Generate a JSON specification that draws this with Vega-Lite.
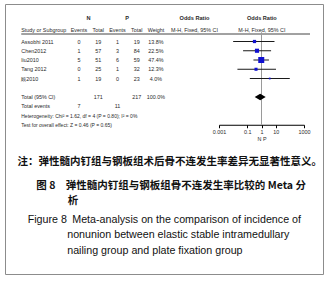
{
  "$schema": "https://vega.github.io/schema/vega-lite/v6.json",
  "width": 318,
  "height": 270,
  "autosize": {"type": "none"},
  "padding": {"left": 5, "top": 4, "right": 12, "bottom": 9},
  "background": "white",
  "config": {
    "view": {"stroke": "#8c8c8c", "strokeWidth": 1},
    "text": {"font": "Liberation Sans", "fontSize": 5.4, "color": "#2a2a2a"}
  },
  "title": {
    "text": ["\u200b\u2003\u2002\u2004图 8\u2003弹性髓内钉组与钢板组骨不连发生率比较的 Meta 分", "\u200b\u3000\u3000\u3000\u3000\u2002\u2004析"],
    "subtitle": ["\u200b\u2002\u2002Figure 8\u2002Meta-analysis on the comparison of incidence of", "\u200b\u2003\u2003\u2003\u2003\u2002\u2009nonunion between elastic stable intramedullary", "\u200b\u2003\u2003\u2003\u2003\u2002\u2009nailing group and plate fixation group"],
    "orient": "bottom",
    "anchor": "start",
    "frame": "group",
    "dx": 12,
    "offset": -93.5,
    "font": "Noto Sans CJK SC",
    "fontSize": 10.5,
    "fontWeight": "bold",
    "lineHeight": 15,
    "color": "#111111",
    "subtitleFont": "Liberation Sans",
    "subtitleFontSize": 10.7,
    "subtitleLineHeight": 15.5,
    "subtitleColor": "#111111",
    "subtitlePadding": 8.5
  },
  "datasets": {
    "studies": [
      {"study": "Assobhi 2011", "ne": 0, "nt": 19, "pe": 1, "pt": 19, "weight": 0.138, "ci": "0.32 [0.01, 8.26]", "or": 0.32, "lo": 0.01, "hi": 8.26},
      {"study": "Chen2012", "ne": 1, "nt": 57, "pe": 3, "pt": 84, "weight": 0.225, "ci": "0.48 [0.05, 4.75]", "or": 0.48, "lo": 0.05, "hi": 4.75},
      {"study": "liu2010", "ne": 5, "nt": 51, "pe": 6, "pt": 59, "weight": 0.474, "ci": "0.96 [0.27, 3.35]", "or": 0.96, "lo": 0.27, "hi": 3.35},
      {"study": "Tang 2012", "ne": 0, "nt": 25, "pe": 1, "pt": 32, "weight": 0.123, "ci": "0.41 [0.02, 10.54]", "or": 0.41, "lo": 0.02, "hi": 10.54},
      {"study": "顾2010", "ne": 1, "nt": 19, "pe": 0, "pt": 23, "weight": 0.04, "ci": "3.81 [0.15, 99.10]", "or": 3.81, "lo": 0.15, "hi": 99.1},
      {"study": "Total (95% CI)", "nt": 171, "pt": 217, "weight": 1, "ci": "0.81 [0.33, 2.00]", "or": 0.81, "lo": 0.33, "hi": 2.0},
      {"study": "Total events", "ne": 7, "pe": 11},
      {"study": "Heterogeneity: Chi² = 1.62, df = 4 (P = 0.80); I² = 0%"},
      {"study": "Test for overall effect: Z = 0.46 (P = 0.65)"}
    ],
    "headers": [
      {"hrow": "h1", "col": "N", "text": "N"},
      {"hrow": "h1", "col": "P", "text": "P"},
      {"hrow": "h1", "col": "ci", "text": "Odds Ratio"},
      {"hrow": "h1", "col": "plot", "text": "Odds Ratio"},
      {"hrow": "h2", "col": "study", "text": "Study or Subgroup"},
      {"hrow": "h2", "col": "ne", "text": "Events"},
      {"hrow": "h2", "col": "nt", "text": "Total"},
      {"hrow": "h2", "col": "pe", "text": "Events"},
      {"hrow": "h2", "col": "pt", "text": "Total"},
      {"hrow": "h2", "col": "w", "text": "Weight"},
      {"hrow": "h2", "col": "ci", "text": "M-H, Fixed, 95% CI"},
      {"hrow": "h2", "col": "plot", "text": "M-H, Fixed, 95% CI"}
    ]
  },
  "layer": [
    {
      "data": {"name": "studies"},
      "encoding": {
        "y": {"field": "study", "type": "nominal", "axis": null,
          "scale": {"type": "point", "padding": 0, "range": [28.25, 120.75],
            "domain": ["top", "Assobhi 2011", "Chen2012", "liu2010", "Tang 2012", "顾2010", "gap", "Total (95% CI)", "Total events", "Heterogeneity: Chi² = 1.62, df = 4 (P = 0.80); I² = 0%", "Test for overall effect: Z = 0.46 (P = 0.65)"]}}
      },
      "layer": [
        {
          "transform": [{"filter": {"or": [{"field": "nt", "valid": true}, {"field": "ne", "valid": true}]}}],
          "mark": {"type": "text", "align": "left", "baseline": "middle"},
          "encoding": {
            "x": {"datum": "study", "type": "nominal",
              "scale": {"type": "point", "padding": 0, "range": [16.25, 305],
                "domain": ["study","s1","s2","s3","s4","s5","ne","N","nt","s9","pe","P","pt","s13","w","s15","s16","s17","ci","s19","s20","s21","s22","s23","s24","plot","s26","s27","s28","s29","end"]},
              "axis": {"orient": "bottom", "offset": -113, "labels": false, "ticks": false, "domain": false, "grid": false,
                "title": "注：弹性髓内钉组与钢板组术后骨不连发生率差异无显著性意义。",
                "titleFont": "Noto Sans CJK SC", "titleFontSize": 10.5, "titleFontWeight": "bold", "titleColor": "#111111",
                "titleAlign": "left", "titleAnchor": "start", "titleX": 12, "titleY": 0, "titleBaseline": "middle", "titlePadding": 0}},
            "text": {"field": "study", "type": "nominal"}
          }
        },
        {
          "transform": [{"filter": {"not": {"or": [{"field": "nt", "valid": true}, {"field": "ne", "valid": true}]}}}],
          "mark": {"type": "text", "align": "left", "baseline": "middle", "fontSize": 5},
          "encoding": {
            "x": {"datum": "study", "type": "nominal"},
            "text": {"field": "study", "type": "nominal"}
          }
        },
        {
          "transform": [
            {"fold": ["ne", "nt", "pe", "pt"], "as": ["col", "val"]},
            {"filter": {"field": "val", "valid": true}}
          ],
          "mark": {"type": "text", "align": "center", "baseline": "middle"},
          "encoding": {
            "x": {"field": "col", "type": "nominal"},
            "text": {"field": "val", "type": "nominal"}
          }
        },
        {
          "transform": [{"filter": {"field": "weight", "valid": true}}],
          "mark": {"type": "text", "align": "center", "baseline": "middle"},
          "encoding": {
            "x": {"datum": "w", "type": "nominal"},
            "text": {"field": "weight", "type": "quantitative", "format": ".1%"}
          }
        },
        {
          "transform": [{"filter": {"field": "ci", "valid": true}}],
          "mark": {"type": "text", "align": "center", "baseline": "middle"},
          "encoding": {
            "x": {"datum": "ci", "type": "nominal"},
            "text": {"field": "ci", "type": "nominal"}
          }
        }
      ]
    },
    {
      "data": {"name": "headers"},
      "encoding": {
        "y": {"field": "hrow", "type": "nominal", "axis": null,
          "scale": {"type": "point", "padding": 0, "range": [14, 30], "domain": ["h1", "g1", "g2", "h2", "hl"]}}
      },
      "layer": [
        {
          "transform": [{"filter": {"field": "col", "equal": "study"}}],
          "mark": {"type": "text", "align": "left", "baseline": "middle"},
          "encoding": {
            "x": {"field": "col", "type": "nominal", "axis": null,
              "scale": {"type": "point", "padding": 0, "range": [16.25, 305],
                "domain": ["study","s1","s2","s3","s4","s5","ne","N","nt","s9","pe","P","pt","s13","w","s15","s16","s17","ci","s19","s20","s21","s22","s23","s24","plot","s26","s27","s28","s29","end"]}},
            "text": {"field": "text", "type": "nominal"}
          }
        },
        {
          "transform": [{"filter": {"field": "hrow", "equal": "h2"}}, {"filter": {"not": {"field": "col", "equal": "study"}}}],
          "mark": {"type": "text", "align": "center", "baseline": "middle"},
          "encoding": {
            "x": {"field": "col", "type": "nominal", "axis": null},
            "text": {"field": "text", "type": "nominal"}
          }
        },
        {
          "transform": [{"filter": {"field": "hrow", "equal": "h1"}}],
          "mark": {"type": "text", "align": "center", "baseline": "middle", "fontWeight": "bold", "fontSize": 5.6},
          "encoding": {
            "x": {"field": "col", "type": "nominal", "axis": null},
            "text": {"field": "text", "type": "nominal"}
          }
        },
        {
          "data": {"values": [{}]},
          "mark": {"type": "rule", "color": "#444444", "strokeWidth": 1},
          "encoding": {
            "x": {"datum": "study", "type": "nominal", "axis": null},
            "x2": {"datum": "end"},
            "y": {"datum": "hl", "type": "nominal", "axis": null}
          }
        }
      ]
    },
    {
      "data": {"name": "studies"},
      "encoding": {
        "y": {"field": "study", "type": "nominal", "axis": null,
          "scale": {"type": "point", "padding": 0, "range": [28.25, 120.75],
            "domain": ["top", "Assobhi 2011", "Chen2012", "liu2010", "Tang 2012", "顾2010", "gap", "Total (95% CI)", "Total events", "Heterogeneity: Chi² = 1.62, df = 4 (P = 0.80); I² = 0%", "Test for overall effect: Z = 0.46 (P = 0.65)"]}}
      },
      "layer": [
        {
          "data": {"values": [{}]},
          "mark": {"type": "rule", "color": "#9a9a9a", "strokeWidth": 1},
          "encoding": {
            "x": {"datum": 1, "type": "quantitative",
              "scale": {"type": "log", "domain": [0.001, 1000], "range": [214, 299], "clamp": false},
              "axis": {"orient": "bottom", "offset": -149.25, "values": [0.001, 0.1, 1, 10, 1000], "format": "~g",
                "grid": false, "domainColor": "#000000", "tickColor": "#000000", "tickSize": 3, "domainWidth": 1,
                "labelFont": "Liberation Sans", "labelFontSize": 5.4, "labelColor": "#2a2a2a",
                "labelPadding": 1.5, "labelFlush": false, "labelOverlap": false,
                "title": "N    P", "titleFont": "Liberation Sans", "titleFontSize": 5.4,
                "titleFontWeight": "normal", "titleColor": "#2a2a2a", "titlePadding": 2}},
            "y": {"datum": "top", "type": "nominal"},
            "y2": {"datum": "Test for overall effect: Z = 0.46 (P = 0.65)"}
          }
        },
        {
          "transform": [{"filter": {"field": "weight", "lt": 1}}],
          "mark": {"type": "rule", "color": "#1a1a1a", "strokeWidth": 1},
          "encoding": {
            "x": {"field": "lo", "type": "quantitative"},
            "x2": {"field": "hi"}
          }
        },
        {
          "transform": [{"filter": {"field": "weight", "lt": 1}}],
          "mark": {"type": "point", "shape": "square", "filled": true, "color": "#1010d0", "opacity": 1},
          "encoding": {
            "x": {"field": "or", "type": "quantitative"},
            "size": {"field": "weight", "type": "quantitative", "legend": null, "scale": {"domain": [0, 0.474], "range": [0, 36]}}
          }
        },
        {
          "transform": [{"filter": {"field": "weight", "equal": 1}}],
          "mark": {"type": "point", "shape": "M-1,0L0,-0.6L1,0L0,0.6Z", "filled": true, "color": "#000000", "opacity": 1, "size": 121},
          "encoding": {
            "x": {"field": "or", "type": "quantitative"}
          }
        }
      ]
    }
  ],
  "resolve": {"scale": {"x": "independent", "y": "independent"}, "axis": {"x": "independent", "y": "independent"}}
}
